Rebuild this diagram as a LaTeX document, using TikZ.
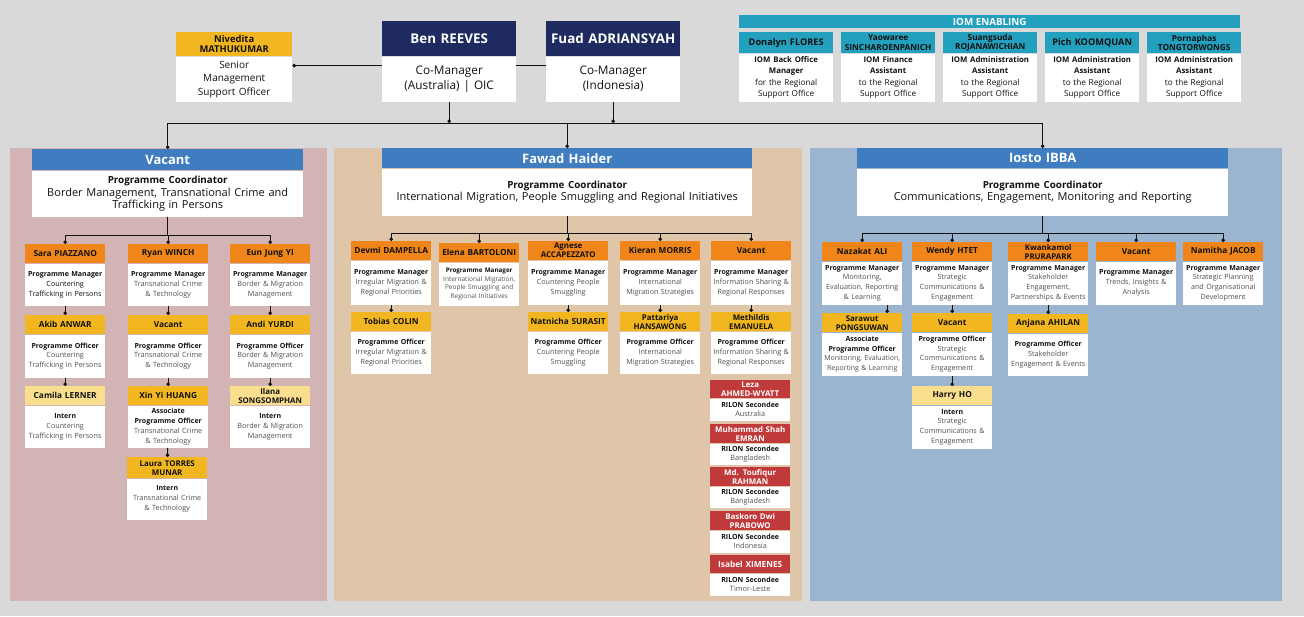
\documentclass[tikz,border=0pt]{standalone}
\usepackage{fontspec}
\setmainfont{Open Sans}
\usetikzlibrary{arrows.meta,positioning}

\definecolor{canvas}{HTML}{D9D9D9}
\definecolor{rosepanel}{HTML}{D3B4B4}
\definecolor{tanpanel}{HTML}{E0C6A8}
\definecolor{bluepanel}{HTML}{9BB4CF}
\definecolor{navy}{HTML}{1F2A60}
\definecolor{iomteal}{HTML}{23A0BE}
\definecolor{pcblue}{HTML}{3F7DC0}
\definecolor{mgrorange}{HTML}{F0861A}
\definecolor{offyellow}{HTML}{F2B720}
\definecolor{internyellow}{HTML}{F9DF8D}
\definecolor{rilonred}{HTML}{C0393B}
\definecolor{ink}{HTML}{111111}
\definecolor{desc}{HTML}{505050}

\newcommand{\role}[1]{\textcolor{ink}{\bfseries\fontsize{7}{9.8}\selectfont #1}}
\newcommand{\iomrole}[1]{{\bfseries\fontsize{7.8}{11.5}\selectfont #1}}
\newcommand{\pcrole}[1]{{\bfseries\fontsize{9.8}{12.2}\selectfont #1}}

\begin{document}
\begin{tikzpicture}[
  x=1pt, y=-1pt,
  line/.style={draw=ink, line width=0.9pt},
  link/.style={line, -{Circle[length=3.6pt]}},
  tophd/.style={anchor=north west, inner sep=1pt, text width=132pt, minimum height=35pt, fill=navy, text=white, align=center, font=\fontsize{13.4}{15}\selectfont\bfseries},
  topbd/.style={inner sep=1pt, text width=132pt, minimum height=45pt, fill=white, text=ink, align=center, font=\fontsize{11.8}{15}\selectfont},
  iomhd/.style={anchor=north west, inner sep=1pt, text width=92pt, minimum height=21pt, fill=iomteal, text=ink, align=center, font=\fontsize{9.2}{10}\selectfont\bfseries},
  iomtwo/.style={font=\fontsize{8.3}{9.6}\selectfont\bfseries},
  iombd/.style={inner sep=1pt, text width=92pt, minimum height=48pt, fill=white, text=ink, align=center, font=\fontsize{8.2}{11.5}\selectfont},
  pchd/.style={anchor=north west, inner sep=1pt, minimum height=20pt, fill=pcblue, text=white, align=center, font=\fontsize{13}{15}\selectfont\bfseries},
  pcbd/.style={inner sep=1pt, minimum height=47pt, fill=white, text=ink, align=center, font=\fontsize{11}{12.2}\selectfont},
  hd/.style={anchor=north west, inner xsep=0pt, inner ysep=1pt, text width=80pt, minimum height=19pt, align=center, text=ink, font=\fontsize{8.3}{9}\selectfont\bfseries},
  twoline/.style={font=\fontsize{7.9}{9}\selectfont\bfseries},
  bd/.style={inner xsep=0pt, inner ysep=1pt, text width=80pt, minimum height=42pt, align=center, fill=white, text=desc, font=\fontsize{7.2}{9.8}\selectfont},
  mgr/.style={hd, fill=mgrorange},
  off/.style={hd, fill=offyellow},
  intern/.style={hd, fill=internyellow},
  rilon/.style={hd, fill=rilonred, text=white, minimum height=18pt, font=\fontsize{7.9}{8.8}\selectfont\bfseries},
  rilonbd/.style={bd, minimum height=22pt, font=\fontsize{7.3}{9}\selectfont}
]
\useasboundingbox (0,0) rectangle (1304,616);
\fill[canvas] (0,0) rectangle (1304,616);
\fill[rosepanel] (10,148) rectangle (327,601);
\fill[tanpanel] (334,148) rectangle (802,601);
\fill[bluepanel] (810,148) rectangle (1282,601);

% management
\node[off, text width=116pt, minimum height=24pt, font=\fontsize{9.4}{10}\selectfont\bfseries] (nivH) at (176,32) {Nivedita\\MATHUKUMAR};
\node[bd, below=0pt of nivH, text width=116pt, minimum height=45pt, text=ink, font=\fontsize{10}{13.5}\selectfont] (nivB) {Senior\\Management\\Support Officer};
\node[tophd] (benH) at (382,21) {Ben REEVES};
\node[topbd, below=0pt of benH] (benB) {Co-Manager\\(Australia) | OIC};
\node[tophd] (fuadH) at (546,21) {Fuad ADRIANSYAH};
\node[topbd, below=0pt of fuadH] (fuadB) {Co-Manager\\(Indonesia)};

% IOM enabling
\node[anchor=north west, inner sep=0pt, minimum width=501pt, minimum height=13pt, fill=iomteal, text=white, font=\fontsize{9.8}{10}\selectfont\bfseries] (iomBar) at (739,15) {IOM ENABLING};
\node[iomhd] (donalynH) at (739,32) {Donalyn FLORES};
\node[iombd, below=0pt of donalynH] (donalynB) {\iomrole{IOM Back Office}\\\iomrole{Manager}\\for the Regional\\Support Office};
\node[iomhd, iomtwo] (yaowareeH) at (841,32) {Yaowaree\\SINCHAROENPANICH};
\node[iombd, below=0pt of yaowareeH] (yaowareeB) {\iomrole{IOM Finance}\\\iomrole{Assistant}\\to the Regional\\Support Office};
\node[iomhd, iomtwo] (suangsudaH) at (943,32) {Suangsuda\\ROJANAWICHIAN};
\node[iombd, below=0pt of suangsudaH] (suangsudaB) {\iomrole{IOM Administration}\\\iomrole{Assistant}\\to the Regional\\Support Office};
\node[iomhd] (pichH) at (1045,32) {Pich KOOMQUAN};
\node[iombd, below=0pt of pichH] (pichB) {\iomrole{IOM Administration}\\\iomrole{Assistant}\\to the Regional\\Support Office};
\node[iomhd, iomtwo] (pornaphasH) at (1147,32) {Pornaphas\\TONGTORWONGS};
\node[iombd, below=0pt of pornaphasH] (pornaphasB) {\iomrole{IOM Administration}\\\iomrole{Assistant}\\to the Regional\\Support Office};

% programme coordinators
\node[pchd, text width=269pt, minimum height=21pt] (vacH) at (32,149) {Vacant};
\node[pcbd, below=0pt of vacH, text width=269pt, minimum height=46pt] (vacB) {\pcrole{Programme Coordinator}\\Border Management, Transnational Crime and\\Trafficking in Persons};
\node[pchd, text width=368pt] (fawadH) at (382,148) {Fawad Haider};
\node[pcbd, below=0pt of fawadH, text width=368pt] (fawadB) {\pcrole{Programme Coordinator}\\International Migration, People Smuggling and Regional Initiatives};
\node[pchd, text width=369pt] (iostoH) at (857,148) {Iosto IBBA};
\node[pcbd, below=0pt of iostoH, text width=369pt] (iostoB) {\pcrole{Programme Coordinator}\\Communications, Engagement, Monitoring and Reporting};

% border management team
\node[mgr] (saraH) at (25,244) {Sara PIAZZANO};
\node[bd, below=0pt of saraH, text=ink] (saraB) {\role{Programme Manager}\\Countering\\Trafficking in Persons};
\node[mgr] (ryanH) at (128,244) {Ryan WINCH};
\node[bd, below=0pt of ryanH] (ryanB) {\role{Programme Manager}\\Transnational Crime\\\& Technology};
\node[mgr] (eunH) at (230,244) {Eun Jung YI};
\node[bd, below=0pt of eunH] (eunB) {\role{Programme Manager}\\Border \& Migration\\Management};
\node[off] (akibH) at (25,315) {Akib ANWAR};
\node[bd, below=0pt of akibH, minimum height=43pt] (akibB) {\role{Programme Officer}\\Countering\\Trafficking in Persons};
\node[off] (vacTcH) at (128,315) {Vacant};
\node[bd, below=0pt of vacTcH, minimum height=43pt] (vacTcB) {\role{Programme Officer}\\Transnational Crime\\\& Technology};
\node[off] (andiH) at (230,315) {Andi YURDI};
\node[bd, below=0pt of andiH, minimum height=43pt] (andiB) {\role{Programme Officer}\\Border \& Migration\\Management};
\node[intern] (camilaH) at (25,386) {Camila LERNER};
\node[bd, below=0pt of camilaH] (camilaB) {\role{Intern}\\Countering\\Trafficking in Persons};
\node[off] (xinH) at (128,386) {Xin Yi HUANG};
\node[bd, below=0pt of xinH] (xinB) {\role{Associate}\\\role{Programme Officer}\\Transnational Crime\\\& Technology};
\node[intern, twoline] (ilanaH) at (230,386) {Ilana\\SONGSOMPHAN};
\node[bd, below=0pt of ilanaH] (ilanaB) {\role{Intern}\\Border \& Migration\\Management};
\node[off, twoline, minimum height=21pt] (lauraH) at (127,457) {Laura TORRES\\MUNAR};
\node[bd, below=0pt of lauraH, minimum height=41pt] (lauraB) {\role{Intern}\\Transnational Crime\\\& Technology};

% migration team
\node[mgr] (devmiH) at (351,241) {Devmi DAMPELLA};
\node[bd, below=0pt of devmiH, minimum height=44pt] (devmiB) {\role{Programme Manager}\\Irregular Migration \&\\Regional Priorities};
\node[mgr] (elenaH) at (439,243) {Elena BARTOLONI};
\node[bd, below=0pt of elenaH, minimum height=43pt, font=\fontsize{6.5}{8.4}\selectfont] (elenaB) {\role{\fontsize{6.3}{8.4}\selectfont Programme Manager}\\International Migration,\\People Smuggling and\\Regional Initiatives};
\node[mgr, twoline] (agneseH) at (528,241) {Agnese\\ACCAPEZZATO};
\node[bd, below=0pt of agneseH, minimum height=44pt] (agneseB) {\role{Programme Manager}\\Countering People\\Smuggling};
\node[mgr] (kieranH) at (620,241) {Kieran MORRIS};
\node[bd, below=0pt of kieranH, minimum height=44pt] (kieranB) {\role{Programme Manager}\\International\\Migration Strategies};
\node[mgr] (vacIsH) at (711,241) {Vacant};
\node[bd, below=0pt of vacIsH, minimum height=44pt] (vacIsB) {\role{Programme Manager}\\Information Sharing \&\\Regional Responses};
\node[off] (tobiasH) at (351,312) {Tobias COLIN};
\node[bd, below=0pt of tobiasH] (tobiasB) {\role{Programme Officer}\\Irregular Migration \&\\Regional Priorities};
\node[off] (natnichaH) at (528,312) {Natnicha SURASIT};
\node[bd, below=0pt of natnichaH] (natnichaB) {\role{Programme Officer}\\Countering People\\Smuggling};
\node[off, twoline] (pattariyaH) at (620,312) {Pattariya\\HANSAWONG};
\node[bd, below=0pt of pattariyaH] (pattariyaB) {\role{Programme Officer}\\International\\Migration Strategies};
\node[off, twoline] (methildisH) at (711,312) {Methildis\\EMANUELA};
\node[bd, below=0pt of methildisH] (methildisB) {\role{Programme Officer}\\Information Sharing \&\\Regional Responses};

% RILON secondees
\node[rilon] (lezaH) at (710,380) {Leza\\AHMED-WYATT};
\node[rilonbd, below=0pt of lezaH] (lezaB) {\role{RILON Secondee}\\Australia};
\node[rilon, minimum height=19pt] (shahH) at (710,424) {Muhammad Shah\\EMRAN};
\node[rilonbd, below=0pt of shahH, minimum height=21pt] (shahB) {\role{RILON Secondee}\\Bangladesh};
\node[rilon, minimum height=19pt] (toufiqH) at (710,467) {Md. Toufiqur\\RAHMAN};
\node[rilonbd, below=0pt of toufiqH, minimum height=21pt] (toufiqB) {\role{RILON Secondee}\\Bangladesh};
\node[rilon, minimum height=19pt] (baskoroH) at (710,511) {Baskoro Dwi\\PRABOWO};
\node[rilonbd, below=0pt of baskoroH] (baskoroB) {\role{RILON Secondee}\\Indonesia};
\node[rilon, font=\fontsize{8.3}{9}\selectfont\bfseries] (isabelH) at (710,555) {Isabel XIMENES};
\node[rilonbd, below=0pt of isabelH] (isabelB) {\role{RILON Secondee}\\Timor-Leste};

% communications team
\node[mgr] (nazakatH) at (822,242) {Nazakat ALI};
\node[bd, below=0pt of nazakatH, minimum height=43pt] (nazakatB) {\role{Programme Manager}\\Monitoring,\\Evaluation, Reporting\\\& Learning};
\node[mgr] (wendyH) at (912,242) {Wendy HTET};
\node[bd, below=0pt of wendyH, minimum height=43pt] (wendyB) {\role{Programme Manager}\\Strategic\\Communications \&\\Engagement};
\node[mgr, twoline] (kwanH) at (1008,242) {Kwankamol\\PRURAPARK};
\node[bd, below=0pt of kwanH, minimum height=43pt] (kwanB) {\role{Programme Manager}\\Stakeholder\\Engagement,\\Partnerships \& Events};
\node[mgr] (vacTrH) at (1096,242) {Vacant};
\node[bd, below=0pt of vacTrH, minimum height=43pt] (vacTrB) {\role{Programme Manager}\\Trends, Insights \&\\Analysis};
\node[mgr] (namithaH) at (1183,242) {Namitha JACOB};
\node[bd, below=0pt of namithaH, minimum height=43pt] (namithaB) {\role{Programme Manager}\\Strategic Planning\\and Organisational\\Development};
\node[off, twoline] (sarawutH) at (822,313) {Sarawut\\PONGSUWAN};
\node[bd, below=0pt of sarawutH, minimum height=43pt, font=\fontsize{7}{9.8}\selectfont] (sarawutB) {\role{Associate}\\\role{Programme Officer}\\Monitoring, Evaluation,\\Reporting \& Learning};
\node[off] (vacScH) at (912,313) {Vacant};
\node[bd, below=0pt of vacScH, minimum height=43pt] (vacScB) {\role{Programme Officer}\\Strategic\\Communications \&\\Engagement};
\node[off] (anjanaH) at (1008,314) {Anjana AHILAN};
\node[bd, below=0pt of anjanaH] (anjanaB) {\role{Programme Officer}\\Stakeholder\\Engagement \& Events};
\node[intern] (harryH) at (912,386) {Harry HO};
\node[bd, below=0pt of harryH, minimum height=43pt] (harryB) {\role{Intern}\\Strategic\\Communications \&\\Engagement};

% top links
\coordinate (topbus) at (0,123);
\draw[link] ([yshift=13.5pt]benB.west) -- ([yshift=13.5pt]benB.west -| nivB.east);
\draw[line] ([yshift=13.5pt]benB.east) -- ([yshift=13.5pt]benB.east -| fuadB.west);
\draw[link] (benB.south) -- (benB.south |- topbus);
\draw[link] (fuadB.south) -- (fuadB.south |- topbus);
\draw[line] (vacH.north |- topbus) -- (iostoH.north |- topbus);
\draw[link] (vacH.north |- topbus) -- (vacH.north);
\draw[link] (fawadH.north |- topbus) -- (fawadH.north);
\draw[link] (iostoH.north |- topbus) -- (iostoH.north);

% border management links
\draw[link] (vacB.south) -- ++(0,19) -| (saraH.north);
\draw[link] (vacB.south) -- ++(0,19) -| (ryanH.north);
\draw[link] (vacB.south) -- ++(0,19) -| (eunH.north);
\draw[link] (saraB) -- (akibH);
\draw[link] (akibB) -- (camilaH);
\draw[link] (ryanB) -- (vacTcH);
\draw[link] (vacTcB) -- (xinH);
\draw[link] (xinB) -- (lauraH);
\draw[link] (eunB) -- (andiH);
\draw[link] (andiB) -- (ilanaH);

% migration links
\draw[link] (fawadB.south) -- ++(0,18) -| (devmiH.north);
\draw[link] (fawadB.south) -- ++(0,18) -| (elenaH.north);
\draw[link] (fawadB.south) -- ++(0,18) -| (agneseH.north);
\draw[link] (fawadB.south) -- ++(0,18) -| (kieranH.north);
\draw[link] (fawadB.south) -- ++(0,18) -| (vacIsH.north);
\draw[link] (devmiB) -- (tobiasH);
\draw[link] (agneseB) -- (natnichaH);
\draw[link] (kieranB) -- (pattariyaH);
\draw[link] (vacIsB) -- (methildisH);

% communications links
\draw[link] (iostoB.south) -- ++(0,18) -| (nazakatH.north);
\draw[link] (iostoB.south) -- ++(0,18) -| (wendyH.north);
\draw[link] (iostoB.south) -- ++(0,18) -| (kwanH.north);
\draw[link] (iostoB.south) -- ++(0,18) -| (vacTrH.north);
\draw[link] (iostoB.south) -- ++(0,18) -| (namithaH.north);
\draw[link] ([xshift=25pt]nazakatB.south) -- ([xshift=25pt]sarawutH.north);
\draw[link] (wendyB) -- (vacScH);
\draw[link] (vacScB) -- (harryH);
\draw[link] (kwanB) -- (anjanaH);
\end{tikzpicture}
\end{document}
